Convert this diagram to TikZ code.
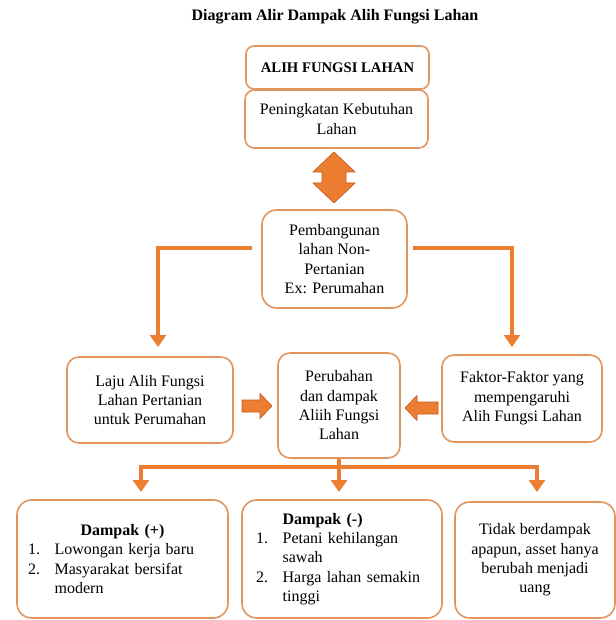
\documentclass[tikz,border=0pt]{standalone}
\usepackage{fontspec}
\setmainfont{Liberation Serif}
\usepackage{tikz}
\definecolor{boxline}{RGB}{226,150,95}
\definecolor{flow}{RGB}{237,125,49}
\definecolor{flowdark}{RGB}{196,92,28}
\usetikzlibrary{arrows.meta, calc}
\newcommand{\nomor}[1]{\makebox[20pt][l]{#1}}

\begin{document}
\begin{tikzpicture}[
    x=0.75pt, y=-0.75pt,
    box/.style={rectangle, rounded corners=9pt, draw=boxline, line width=1.2pt, fill=white,
                align=center, inner sep=0pt, font=\fontsize{12}{14.5}\selectfont},
    listbox/.style={box, rounded corners=11pt, minimum height=88.5pt, align=left},
    line/.style={line width=3pt, color=flow},
    conn/.style={line, -{Triangle[width=12pt,length=9pt]}},
    blockarr/.style={fill=flow, draw=flowdark, line width=0.5pt, line join=miter},
    title/.style={font=\fontsize{12}{14.5}\selectfont\bfseries}
]
    \useasboundingbox (0,0) rectangle (616,620);

    \node[title] (judul) at (335,17) {Diagram Alir Dampak Alih Fungsi Lahan};

    % top stack
    \node[box, rounded corners=6pt, minimum width=137.25pt, minimum height=32.25pt,
          font=\fontsize{11}{13}\selectfont\bfseries] (alih) at (337.5,67.5) {ALIH FUNGSI LAHAN};
    \node[box, rounded corners=7pt, minimum width=137.25pt, minimum height=43.5pt]
          (butuh) at (336.5,119) {Peningkatan Kebutuhan\\Lahan};
    \node[box, rounded corners=11pt, minimum width=108.75pt, minimum height=73.5pt]
          (bangun) at (334.5,259) {Pembangunan\\lahan Non-\\Pertanian\\Ex: Perumahan};

    % middle row
    \node[box, minimum width=124.5pt, minimum height=64.5pt]
          (laju) at (150,400) {Laju Alih Fungsi\\Lahan Pertanian\\untuk Perumahan};
    \node[box, minimum width=91.5pt, minimum height=78.75pt]
          (ubah) at (339,405.5) {Perubahan\\dan dampak\\Aliih Fungsi\\Lahan};
    \node[box, minimum width=120pt, minimum height=65.25pt]
          (faktor) at (522,398.5) {Faktor-Faktor yang\\mempengaruhi\\Alih Fungsi Lahan};

    % bottom row
    \node[listbox, minimum width=158.25pt, text width=141.75pt] (plus) at (122.5,559)
          {\makebox[141.75pt][c]{\bfseries Dampak (+)}\\
           \nomor{1.}Lowongan kerja baru\\
           \nomor{2.}Masyarakat bersifat\\
           \nomor{}modern};
    \node[listbox, minimum width=150pt, text width=129pt] (minus) at (342,559)
          {\nomor{}\textbf{Dampak (-)}\\
           \nomor{1.}Petani kehilangan\\
           \nomor{}sawah\\
           \nomor{2.}Harga lahan semakin\\
           \nomor{}tinggi};
    \node[box, rounded corners=11pt, minimum width=120pt, minimum height=87pt]
          (tidak) at (535,560) {Tidak berdampak\\apapun, asset hanya\\berubah menjadi\\uang};

    % block arrows
    \fill[blockarr] (334,152) -- (355,172) -- (346,172) -- (346,183) -- (355,183) -- (334,203)
          -- (313,183) -- (322,183) -- (322,172) -- (313,172) -- cycle;
    \fill[blockarr] (242,400) -- (260,400) -- (260,393.5) -- (272,406) -- (260,418.5)
          -- (260,412) -- (242,412) -- cycle;
    \fill[blockarr] (438,402) -- (417,402) -- (417,395.5) -- (405,408) -- (417,420.5)
          -- (417,414) -- (438,414) -- cycle;

    % connectors
    \coordinate (tipL) at (158,347);
    \coordinate (tipR) at (512,347);
    \draw[conn, shorten <=7pt] ([yshift=8.25pt]bangun.west) -| (tipL);
    \draw[conn, shorten <=4pt] ([yshift=8.25pt]bangun.east) -| (tipR);

    \coordinate (bus)  at (339,467);
    \coordinate (tipA) at (141,492);
    \coordinate (tipB) at (339,492);
    \coordinate (tipC) at (537,492);
    \draw[line] (ubah.south) -- (bus);
    \draw[conn] (bus) -| (tipA);
    \draw[conn] (bus) -- (tipB);
    \draw[conn] (bus) -| (tipC);
\end{tikzpicture}
\end{document}
